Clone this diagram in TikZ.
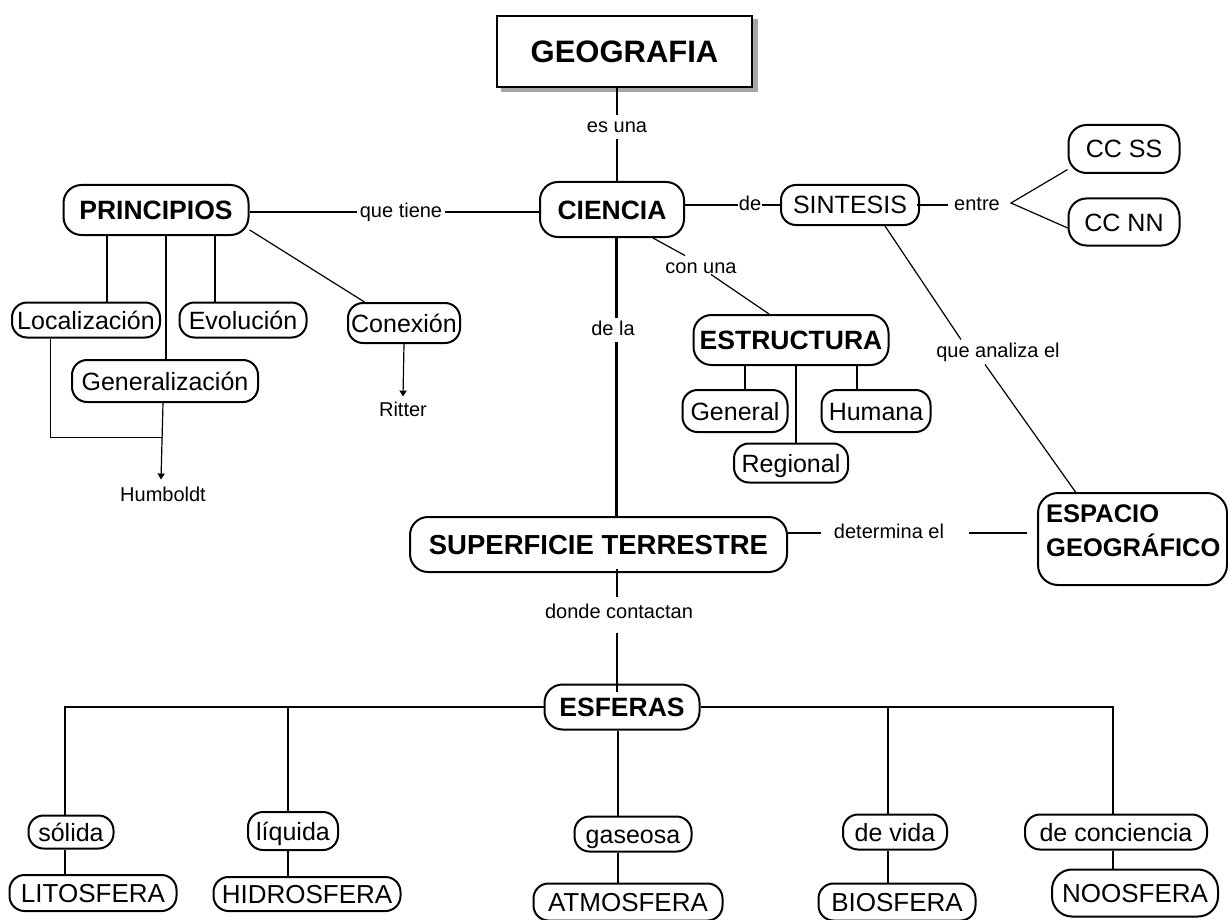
\documentclass[tikz,border=0pt]{standalone}
\usepackage{fontspec}
\setmainfont{Liberation Sans}
\usetikzlibrary{arrows.meta,backgrounds}
\tikzset{
  concept/.style={draw, line width=2pt, rounded corners=15pt, inner sep=0pt, fill=white,
    text height=18pt, text depth=0pt,
    font=\fontsize{25}{30}\selectfont},
  bigconcept/.style={concept, text height=18.6pt, font=\fontsize{26}{31}\selectfont},
  bconcept/.style={concept, rounded corners=18pt, text height=19pt,
    font=\fontsize{26.5}{32}\selectfont\bfseries},
  geobox/.style={draw, line width=2.5pt, fill=white, inner sep=0pt,
    text height=22.2pt, text depth=0pt,
    font=\fontsize{31}{36}\selectfont\bfseries},
  link/.style={inner sep=3pt, text height=14.5pt, text depth=4pt,
    font=\fontsize{20}{24}\selectfont},
  conn/.style={line width=2.2pt},
  heavyconn/.style={line width=3pt},
  thinconn/.style={line width=1.2pt},
  hairconn/.style={line width=1pt},
  arrowconn/.style={line width=1.2pt, -{Triangle[length=6pt,width=7pt]}},
  sz/.style 2 args={minimum width=#1, minimum height=#2}
}
\begin{document}
\begin{tikzpicture}[x=1pt,y=-1pt]
\useasboundingbox (0,0) rectangle (1228,920);

% ---------- nodes ----------
\node[geobox, sz={255}{71}] (geo) at (624.5,51.5) {GEOGRAFIA};
\node[link] (esuna) at (617,127) {es una};
\node[bconcept, sz={144}{55}] (ciencia) at (612,209.5) {CIENCIA};
\node[bconcept, sz={185}{50}] (principios) at (156,210) {PRINCIPIOS};
\node[link] (quetiene) at (401,212) {que tiene};
\node[link, inner sep=1pt] (de1) at (750,205) {de};
\node[concept, sz={138}{40}] (sintesis) at (850,205) {SINTESIS};
\node[link] (entre) at (977,205) {entre};
\coordinate (br) at (1011,203);
\node[concept, sz={111}{48}, rounded corners=18pt] (ccss) at (1124,149) {CC SS};
\node[concept, sz={111}{47}, rounded corners=18pt] (ccnn) at (1124,222) {CC NN};
\node[link] (conuna) at (701,268) {con una};
\node[bconcept, sz={195}{50}] (estructura) at (791,340) {ESTRUCTURA};
\node[concept, sz={105}{42}] (general) at (735,411) {General};
\node[concept, sz={109}{42}] (humana) at (876,411) {Humana};
\node[concept, sz={114}{39}] (regional) at (791,463) {Regional};
\node[link] (analiza) at (998,352) {que analiza el};
\node[draw, line width=2pt, rounded corners=20pt, sz={189}{92}] (espacio) at (1132.5,539) {};
\node[anchor=west, align=left, inner sep=0pt, font=\fontsize{25.5}{34}\selectfont\bfseries] (espaciotxt) at (1046,531) {ESPACIO\\GEOGRÁFICO};
\node[link] (dela) at (613,330) {de la};
\node[bconcept, sz={377}{55}, text height=19.7pt, font=\fontsize{27.5}{32}\selectfont\bfseries] (superficie) at (598.5,544.5) {SUPERFICIE TERRESTRE};
\node[link] (determina) at (889,533) {determina el};
\node[link] (donde) at (619,613) {donde contactan};
\node[bconcept, sz={155}{45}] (esferas) at (622,707) {ESFERAS};

\node[concept, sz={148}{35}] (loc) at (86,320) {Localización};
\node[concept, sz={127}{35}] (evol) at (243,320) {Evolución};
\node[concept, sz={112}{40}] (conex) at (404,323) {Conexión};
\node[concept, sz={186}{42}] (gen) at (165,381) {Generalización};
\node[link] (ritter) at (403,411) {Ritter};
\node[link] (humboldt) at (163,496) {Humboldt};
\coordinate (jn) at (163,437);

\node[concept, sz={85}{33}] (solida) at (71,832) {sólida};
\node[concept, sz={90}{38}] (liquida) at (293,831) {líquida};
\node[concept, sz={117}{35}] (gaseosa) at (633,834) {gaseosa};
\node[concept, sz={104}{35}] (devida) at (895,832) {de vida};
\node[concept, sz={182}{35}] (deconc) at (1116,832) {de conciencia};
\node[bigconcept, sz={167}{36}] (lito) at (93,893) {LITOSFERA};
\node[bigconcept, sz={187}{34}] (hidro) at (307,894) {HIDROSFERA};
\node[bigconcept, sz={189}{37}] (atmos) at (628,902) {ATMOSFERA};
\node[bigconcept, sz={157}{37}] (bio) at (897,902) {BIOSFERA};
\node[bigconcept, sz={166}{47}, rounded corners=20pt] (noos) at (1135,893) {NOOSFERA};

% background and shadow of GEOGRAFIA
\begin{scope}[on background layer]
\fill[white] (0,0) rectangle (1228,920);
\fill[gray!70] ([xshift=5pt,yshift=-4pt]geo.south west) rectangle ([xshift=5pt,yshift=-4pt]geo.north east);
\end{scope}

% ---------- connectors ----------
\draw[conn] (esuna.north) -- (esuna.north |- geo.south);
\draw[conn] (esuna.south) -- (esuna.south |- ciencia.north);

\draw[conn] (quetiene.west) -- (quetiene.west -| principios.east);
\draw[conn] (quetiene.east) -- (quetiene.east -| ciencia.west);

\draw[conn] (de1.west) -- (de1.west -| ciencia.east);
\draw[conn] (de1.east) -- (de1.east -| sintesis.west);
\draw[conn] ([xshift=-3pt]entre.west) -- ([xshift=-3pt]entre.west -| sintesis.east);
\draw[thinconn] (ccss.200) -- (br) -- (ccnn.186);

\draw[thinconn] ([xshift=41pt]ciencia.south) -- ([xshift=-16pt]conuna.north);
\draw[thinconn] ([xshift=10pt,yshift=6pt]conuna.south) -- ([xshift=-22pt]estructura.north);

\draw[conn] ([xshift=10pt]general.north) -- ([xshift=10pt]general.north |- estructura.south);
\draw[conn] ([xshift=5pt]regional.north) -- ([xshift=5pt]regional.north |- estructura.south);
\draw[conn] ([xshift=-19pt]humana.north) -- ([xshift=-19pt]humana.north |- estructura.south);

\draw[thinconn] ([xshift=35pt]sintesis.south) -- ([xshift=-37pt]analiza.north);
\draw[thinconn] ([xshift=-13pt]analiza.south) -- ([xshift=-57pt]espacio.north);

\draw[heavyconn] ([xshift=3pt]dela.north) -- ([xshift=3pt]dela.north |- ciencia.south);
\draw[heavyconn] ([xshift=3pt]dela.south) -- ([xshift=3pt]dela.south |- superficie.north);

\draw[thinconn] ([xshift=-10pt]determina.west) -- (determina.west -| superficie.east);
\draw[thinconn] ([xshift=22pt]determina.east) -- ([xshift=-10pt]determina.east -| espacio.west);

\draw[thinconn] ([xshift=-2pt,yshift=4pt]donde.north) -- ([xshift=-2pt,yshift=4pt]donde.north |- superficie.south);
\draw[thinconn] ([xshift=-2pt,yshift=-8pt]donde.south) -- ([xshift=-2pt,yshift=-8pt]donde.south |- esferas.north);

% Esferas tree
\draw[conn] (esferas.west) -| ([xshift=-6pt]solida.north);
\draw[conn] ([xshift=-5pt]liquida.north) -- ([xshift=-5pt]liquida.north |- esferas.west);
\draw[conn] (esferas.east) -| ([xshift=-3pt]deconc.north);
\draw[conn] ([xshift=-7pt]devida.north) -- ([xshift=-7pt]devida.north |- esferas.east);
\draw[conn] ([xshift=-4pt]esferas.south) -- ([xshift=-4pt]esferas.south |- gaseosa.north);
\draw[conn] ([xshift=-4pt]esferas.south |- gaseosa.south) -- ([xshift=-4pt]esferas.south |- atmos.north);
\draw[conn] ([xshift=-6pt]solida.south) -- ([xshift=-6pt]solida.south |- lito.north);
\draw[conn] ([xshift=-5pt]liquida.south) -- ([xshift=-5pt]liquida.south |- hidro.north);
\draw[conn] ([xshift=-7pt]devida.south) -- ([xshift=-7pt]devida.south |- bio.north);
\draw[conn] ([xshift=-3pt]deconc.south) -- ([xshift=-3pt]deconc.south |- noos.north);

% Principios tree
\draw[conn] ([xshift=21pt]loc.north) -- ([xshift=21pt]loc.north |- principios.south);
\draw[conn] ([xshift=1pt]gen.north) -- ([xshift=1pt]gen.north |- principios.south);
\draw[conn] ([xshift=-28pt]evol.north) -- ([xshift=-28pt]evol.north |- principios.south);
\draw[thinconn] (principios.-12) -- (conex.152);
\draw[hairconn] ([xshift=-36pt]loc.south) |- (jn);
\draw[arrowconn] ([xshift=-2pt]gen.south) -- ([xshift=-2pt,yshift=4pt]humboldt.north);
\draw[arrowconn] (conex.south) -- ([yshift=2pt]ritter.north);
\end{tikzpicture}
\end{document}
